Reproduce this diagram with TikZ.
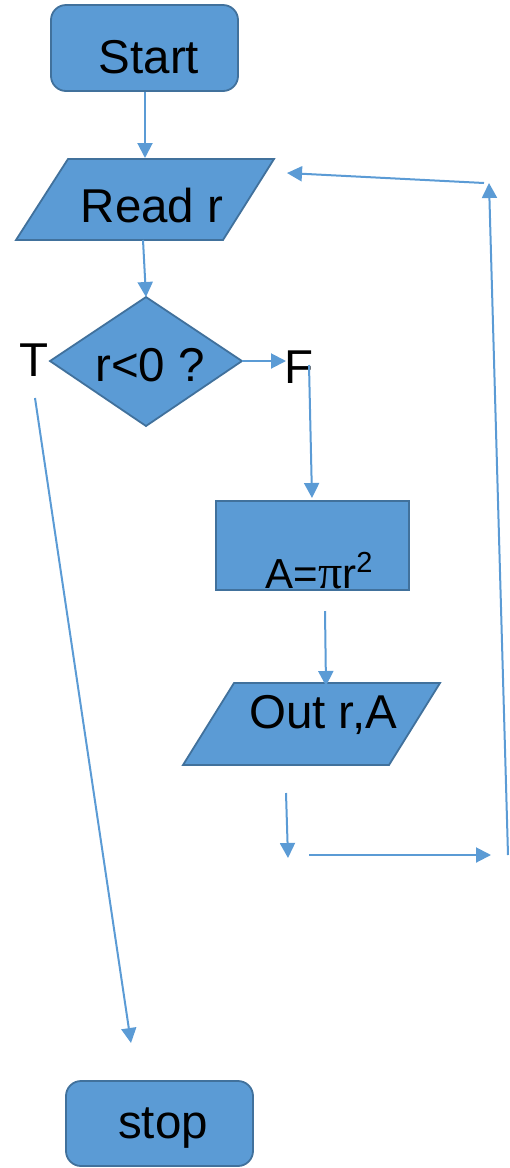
\documentclass[tikz,border=0pt]{standalone}
\usepackage{fontspec}
\setmainfont{Liberation Sans}
\newfontfamily\pifont{Liberation Serif}
\usetikzlibrary{arrows.meta}
\definecolor{boxfill}{HTML}{5B9BD5}
\definecolor{boxline}{HTML}{41719C}
\definecolor{conn}{HTML}{5B9BD5}
\tikzset{
  shapebox/.style={fill=boxfill, draw=boxline, line width=1.8pt},
  roundbox/.style={shapebox, rounded corners=15pt, inner sep=0pt},
  txt/.style={font=\fontsize{47.5}{50}\selectfont, text=black, inner sep=0pt, anchor=base},
  smalltxt/.style={font=\fontsize{42}{44}\selectfont, text=black, inner sep=0pt, anchor=base},
  flow/.style={draw=conn, line width=2pt, -{Triangle[length=15pt,width=15pt]}},
}
\begin{document}
\begin{tikzpicture}[x=1pt,y=-1pt]
\useasboundingbox (0,0) rectangle (510,1168);
% shapes
\draw[roundbox] (51,5) rectangle (238,91);
\draw[shapebox] (68,159) -- (274,159) -- (223,240) -- (16,240) -- cycle;
\draw[shapebox] (146,297) -- (242,361) -- (146,426) -- (50,361) -- cycle;
\draw[shapebox] (216,501) rectangle (409,590);
\draw[shapebox] (234,683) -- (440,683) -- (389,765) -- (183,765) -- cycle;
\draw[roundbox] (66,1081) rectangle (253,1166);
% texts
\node[txt] (start) at (149,73) {Start};
\node[txt] (read) at (152,222) {Read r};
\node[txt] (cond) at (150,381) {r<0 ?};
\node[txt] (tlab) at (34,376) {T};
\node[txt] (flab) at (299,383) {F};
\node[smalltxt] (area) at (319,588) {A={\pifont\fontsize{48}{50}\selectfont π}r\raisebox{16pt}{\fontsize{29}{30}\selectfont 2}};
\node[txt] (out) at (323,728) {Out r,A};
\node[txt] (stop) at (163,1138) {stop};
% connector end points
\coordinate (startB) at (145,92);
\coordinate (readT) at (145,158);
\coordinate (readB) at (143,240);
\coordinate (condT) at (146,297);
\coordinate (condR) at (242,361);
\coordinate (fR) at (286,361);
\coordinate (fTop) at (309,365);
\coordinate (areaT) at (312,498);
\coordinate (areaB) at (325,611);
\coordinate (outT) at (326,686);
\coordinate (outB) at (286,793);
\coordinate (joinA) at (288,858);
\coordinate (joinB) at (309,855);
\coordinate (joinC) at (491,855);
\coordinate (riseB) at (508,855);
\coordinate (riseT) at (489,183);
\coordinate (backS) at (484,183);
\coordinate (backE) at (287,173);
\coordinate (tS) at (35,398);
\coordinate (stopT) at (131,1043);
% connectors
\draw[flow] (startB) -- (readT);
\draw[flow] (readB) -- (condT);
\draw[flow] (condR) -- (fR);
\draw[flow] (fTop) -- (areaT);
\draw[flow] (areaB) -- (outT);
\draw[flow] (outB) -- (joinA);
\draw[flow] (joinB) -- (joinC);
\draw[flow] (riseB) -- (riseT);
\draw[flow] (backS) -- (backE);
\draw[flow] (tS) -- (stopT);
\end{tikzpicture}
\end{document}
